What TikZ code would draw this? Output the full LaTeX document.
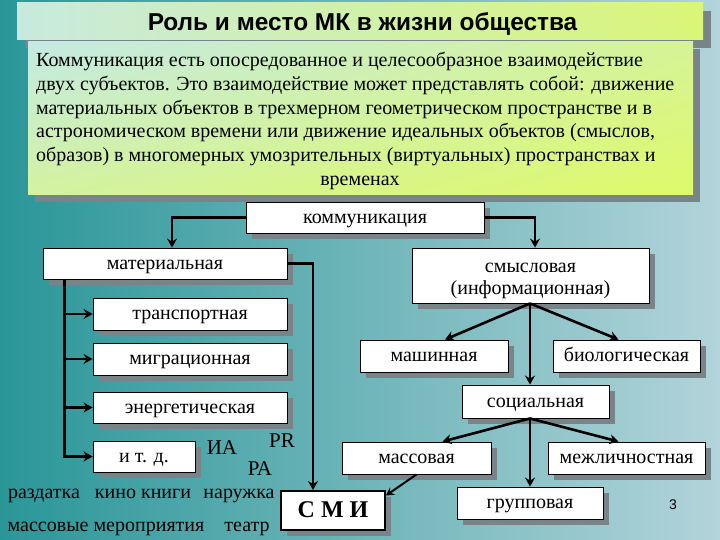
\documentclass[tikz,border=0pt]{standalone}
\usepackage{fontspec}
\setmainfont{Liberation Serif}
\newfontfamily\arial{Liberation Sans}
\usetikzlibrary{arrows.meta,shadows,shadings}
\definecolor{bgL}{RGB}{42,150,152}
\definecolor{bgR}{RGB}{178,212,218}
\definecolor{ttlL}{RGB}{200,234,222}
\definecolor{ttlR}{RGB}{218,246,120}
\definecolor{txUL}{RGB}{196,234,228}
\definecolor{txUR}{RGB}{214,244,150}
\definecolor{txLL}{RGB}{212,242,160}
\definecolor{txLR}{RGB}{222,250,105}
\definecolor{shd}{RGB}{120,132,136}
\tikzset{
  boxbase/.style={draw=black, line width=0.9pt, fill=white, inner sep=0pt,
    font=\fontsize{20}{22}\selectfont,
    drop shadow={shadow xshift=6pt, shadow yshift=-6pt, fill=shd, opacity=1}},
  box/.style={boxbase, text height=13pt, text depth=2pt},
  arr/.style={line width=2.6pt, -{Stealth[length=9pt,width=10pt,inset=3pt]}},
  para/.style={inner sep=0pt, anchor=base west, font=\fontsize{20}{24}\selectfont},
  free/.style={inner sep=0pt, anchor=base, font=\fontsize{20}{24}\selectfont},
  bigfree/.style={inner sep=0pt, anchor=base, font=\fontsize{21}{24}\selectfont},
}
\begin{document}
\begin{tikzpicture}[x=1pt,y=-1pt]
\useasboundingbox (0,0) rectangle (720,540);
\shade[left color=bgL, right color=bgR] (0,0) rectangle (720,540);
% title
\fill[shd] (25,11) rectangle (711,48);
\shade[left color=ttlL, right color=ttlR] (17,3) rectangle (703,40);
\node[font=\arial\bfseries\fontsize{24.4}{28}\selectfont, inner sep=0pt, anchor=base] (title) at (362.5,30.5) {Роль и место МК в жизни общества};
% text box
\fill[shd] (35,49) rectangle (700,202);
\shade[upper left=txUL, upper right=txUR, lower left=txLL, lower right=txLR] (28,42) rectangle (693,195);
\node[para] (p1) at (36,67) {Коммуникация есть опосредованное и целесообразное взаимодействие};
\node[para] (p2) at (36,90.5) {двух субъектов. Это взаимодействие может представлять собой: движение};
\node[para] (p3) at (36,114.5) {материальных объектов в трехмерном геометрическом пространстве и в};
\node[para] (p4) at (36,138) {астрономическом времени или движение идеальных объектов (смыслов,};
\node[para] (p5) at (36,162) {образов) в многомерных умозрительных (виртуальных) пространствах и};
\node[para, anchor=base] (p6) at (360,185.5) {временах};
% boxes
\node[box, minimum width=238, minimum height=31] (komm) at (365,217.5) {коммуникация};
\node[box, minimum width=244, minimum height=31] (mat) at (165,263.5) {материальная};
\node[boxbase, minimum width=237, minimum height=55] (smysl) at (530.5,275.5) {};
\node[free] (smysl1) at (530.5,272.5) {смысловая};
\node[free] (smysl2) at (530.5,294.5) {(информационная)};
\node[box, minimum width=194, minimum height=32] (trans) at (190,314) {транспортная};
\node[box, minimum width=194, minimum height=32] (migr) at (190,359) {миграционная};
\node[box, minimum width=194, minimum height=31] (energ) at (190,407.5) {энергетическая};
\node[box, minimum width=102, minimum height=31] (itd) at (144,456.5) {и т. д.};
\node[box, minimum width=148, minimum height=32] (mash) at (434,356) {машинная};
\node[box, minimum width=147, minimum height=32] (bio) at (626.5,356) {биологическая};
\node[box, minimum width=147, minimum height=33] (soc) at (535.5,401.5) {социальная};
\node[box, minimum width=149, minimum height=32] (mass) at (416.5,458) {массовая};
\node[box, minimum width=157, minimum height=32] (mezh) at (626.5,458) {межличностная};
\node[box, minimum width=146, minimum height=32] (grup) at (530,503) {групповая};
\node[box, line width=2pt, text height=15pt, minimum width=104, minimum height=39, font=\bfseries\fontsize{24}{28}\selectfont] (smi) at (333,510.5) {С М И};
% free texts
\node[bigfree] (ia) at (222,454) {ИА};
\node[bigfree] (pr) at (282,447) {PR};
\node[bigfree] (ra) at (260,475) {РА};
\node[free] (razd) at (44,498) {раздатка};
\node[free] (kino) at (143,498) {кино книги};
\node[free] (naru) at (239,498) {наружка};
\node[free] (massm) at (106,531) {массовые мероприятия};
\node[free] (teatr) at (247,531) {театр};
\node[inner sep=0pt, font=\arial\fontsize{14}{16}\selectfont] (pnum) at (673,505) {3};
% connectors
\draw[arr] (komm.west) -| ([xshift=7pt]mat.north);
\draw[arr] (komm.east) -| ([xshift=4.5pt]smysl.north);
\draw[arr] (mat.east) -| ([xshift=-20pt]smi.north);
\coordinate (bus) at ([xshift=22pt]mat.south west);
\draw[arr] (bus) |- (itd.west);
\draw[arr] (trans.west -| bus) -- (trans.west);
\draw[arr] (migr.west -| bus) -- (migr.west);
\draw[arr] (energ.west -| bus) -- (energ.west);
\coordinate (sm) at ([xshift=-0.5pt]smysl.south);
\draw[arr] (sm) -- ([xshift=11pt]mash.north);
\draw[arr] (sm) -- ([xshift=-8pt]bio.north);
\draw[arr] (sm) -- (sm |- soc.north);
\coordinate (so) at ([xshift=-5.5pt]soc.south);
\draw[arr] (so) -- ([xshift=26pt]mass.north);
\draw[arr] (so) -- ([xshift=-8pt]mezh.north);
\draw[arr] (so) -- (so |- grup.north);
\draw[line width=2pt, -{Stealth[length=8pt,width=9pt,inset=3pt]}] (mass.south) -- ([yshift=15pt]smi.east);
\end{tikzpicture}
\end{document}
